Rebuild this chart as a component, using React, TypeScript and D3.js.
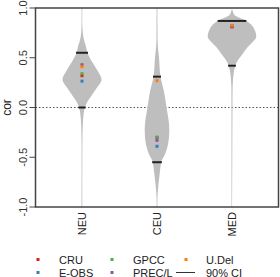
import * as d3 from "d3"

const regions = ["NEU", "CEU", "MED"]
const datasets = ["CRU", "E-OBS", "GPCC", "PREC/L", "U.Del"]
const dsColors = ["#e41a1c", "#377eb8", "#4daf4a", "#984ea3", "#ff7f00"]
const yTicks = [-1, -0.5, 0, 0.5, 1]

// violin outlines: [cor, relative density]
const neuProfile: [number, number][] = [
  [1.0, 0.015], [0.8, 0.02], [0.7, 0.06], [0.61, 0.16], [0.55, 0.22], [0.46, 0.4],
  [0.38, 0.6], [0.28, 0.78], [0.2, 0.6], [0.11, 0.36], [0.05, 0.2], [0.0, 0.12],
  [-0.04, 0.08], [-0.14, 0.04], [-0.3, 0.02], [-1.0, 0.015],
]
const ceuProfile: [number, number][] = [
  [1.0, 0.015], [0.8, 0.02], [0.63, 0.03], [0.5, 0.08], [0.31, 0.14], [0.16, 0.28],
  [0.0, 0.38], [-0.14, 0.47], [-0.24, 0.49], [-0.37, 0.44], [-0.47, 0.32], [-0.54, 0.18],
  [-0.64, 0.12], [-0.77, 0.06], [-0.9, 0.02], [-1.0, 0.015],
]
const medProfile: [number, number][] = [
  [0.99, 0.0], [0.97, 0.03], [0.93, 0.1], [0.88, 0.5], [0.83, 0.78], [0.76, 0.94],
  [0.7, 0.96], [0.65, 0.8], [0.6, 0.6], [0.53, 0.4], [0.46, 0.2], [0.41, 0.12],
  [0.33, 0.06], [0.23, 0.03], [0.0, 0.02], [-1.0, 0.015],
]
const profiles = [neuProfile, ceuProfile, medProfile]

// 90% confidence interval [low, high]
const ciLow = [0.0, -0.55, 0.42]
const ciHigh = [0.55, 0.31, 0.87]

// correlation of each observation dataset, per region (order = datasets)
const neuObs = [0.32, 0.265, 0.34, 0.43, 0.41]
const ceuObs = [-0.3, -0.39, -0.3, -0.33, 0.27]
const medObs = [0.81, 0.815, 0.815, 0.815, 0.825]
const obs = [neuObs, ceuObs, medObs]

export default function App() {
  const width = 280
  const height = 277
  const left = 35.5
  const right = 278.5
  const top = 8
  const bottom = 207

  const x = d3.scaleLinear().domain([0.38, 3.62]).range([left, right])
  const y = d3.scaleLinear().domain([-1, 1]).range([bottom, top])
  const w = d3.scaleLinear().domain([0, 1]).range([0, 25])

  const font = "Liberation Sans, Arial, sans-serif"

  return (
    <svg width={width} height={height} style={{ position: "absolute", left: 0, top: 0 }} fontFamily={font}>
      <rect width={width} height={height} fill="#fff" />
      {/* zero line */}
      <line x1={left} x2={right} y1={y(0)} y2={y(0)} stroke="#555" strokeWidth={1} strokeDasharray="1.5,2" />
      {regions.map((r, i) => {
        const cx = x(i + 1)
        const prof = profiles[i]
        const area = d3.area<[number, number]>()
          .y(d => y(d[0]))
          .x0(d => cx - w(d[1]))
          .x1(d => cx + w(d[1]))
          .curve(d3.curveCatmullRom.alpha(0.5))
        const halfAt = d3.scaleLinear()
          .domain(prof.map(d => d[0]).reverse())
          .range(prof.map(d => d[1]).reverse())
        return (
          <g key={r}>
            <path d={area(prof) || ""} fill="#bebebe" />
            {[ciLow[i], ciHigh[i]].map((c, k) => (
              <line key={k} x1={cx - w(halfAt(c)) - 0.5} x2={cx + w(halfAt(c)) + 0.5} y1={y(c)} y2={y(c)}
                stroke="#222" strokeWidth={2} />
            ))}
            {obs[i].map((v, k) => (
              <rect key={k} x={cx - 1.5} y={y(v) - 1.5} width={3} height={3} fill={dsColors[k]} />
            ))}
            <text transform={`translate(${cx + 4},212) rotate(-90)`} textAnchor="end" fontSize={11} fill="#222">{r}</text>
          </g>
        )
      })}
      {/* frame */}
      <rect x={left} y={top} width={right - left} height={bottom - top} fill="none" stroke="#444" strokeWidth={1.5} />
      {yTicks.map(t => (
        <g key={t}>
          <line x1={left - 6} x2={left} y1={y(t)} y2={y(t)} stroke="#444" strokeWidth={1} />
          <text transform={`translate(27,${y(t)}) rotate(-90)`} textAnchor="middle" fontSize={11} fill="#333">
            {t.toFixed(1)}
          </text>
        </g>
      ))}
      <text transform={`translate(11,${(top + bottom) / 2}) rotate(-90)`} textAnchor="middle" fontSize={12} fill="#222">cor</text>
      {/* legend */}
      {datasets.map((d, k) => {
        const col = Math.floor(k / 2)
        const row = k % 2
        const px = [38, 112, 186][col]
        const py = [259.5, 272.5][row]
        const tx = [59, 133, 206][col]
        return (
          <g key={d}>
            <rect x={px - 1.5} y={py - 1.5} width={3} height={3} fill={dsColors[k]} />
            <text x={tx} y={py + 4} fontSize={11} fill="#222">{d}</text>
          </g>
        )
      })}
      <line x1={176} x2={195} y1={272.5} y2={272.5} stroke="#333" strokeWidth={1} />
      <text x={206} y={276.5} fontSize={11} fill="#222">90% CI</text>
    </svg>
  )
}
